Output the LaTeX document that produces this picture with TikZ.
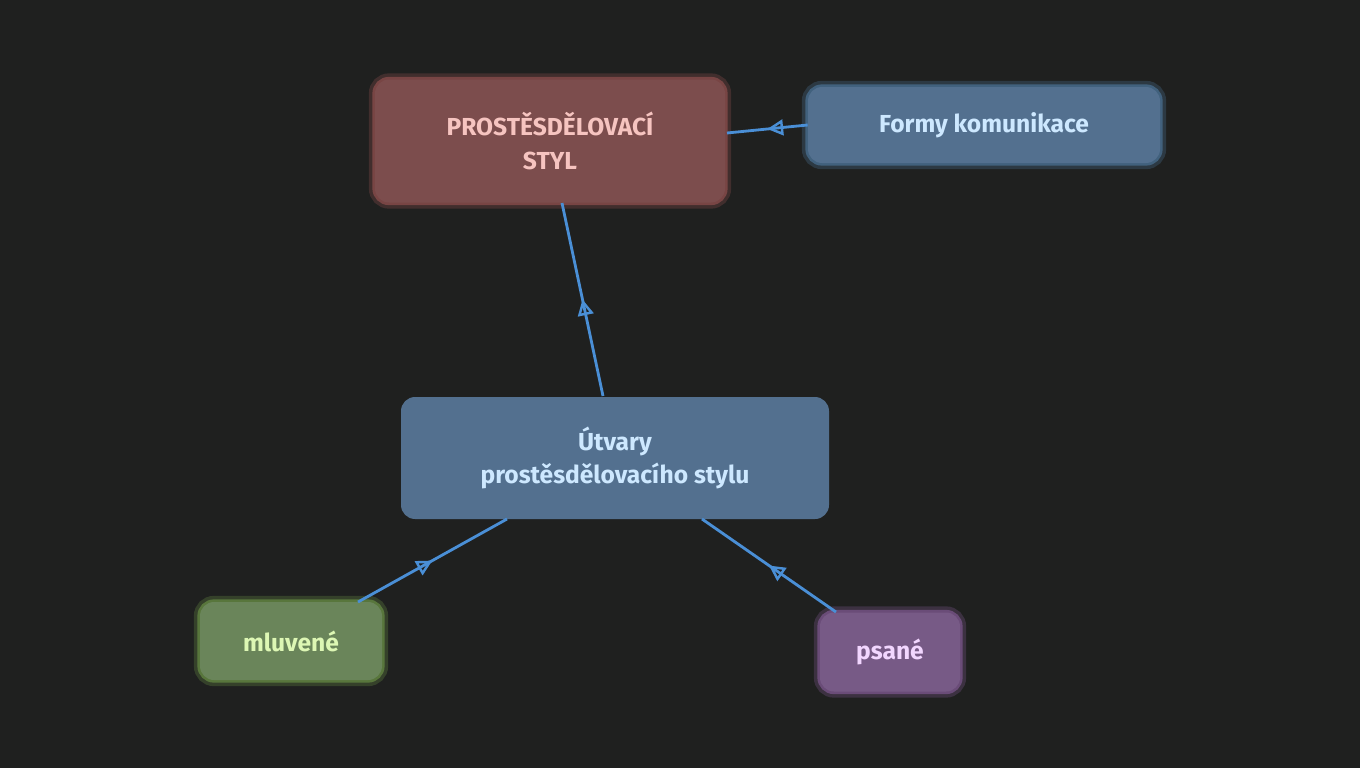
\documentclass[tikz,border=0pt]{standalone}
\usepackage{fontspec}
\setmainfont{Fira Sans}
\usetikzlibrary{arrows.meta, decorations.markings}

\definecolor{bg}{HTML}{1F201F}
\definecolor{linkblue}{HTML}{4A8FD6}
\definecolor{redfill}{HTML}{7C4D4D}
\definecolor{redtext}{HTML}{F6C4C0}
\definecolor{redglow}{HTML}{E07070}
\definecolor{bluefill}{HTML}{53708F}
\definecolor{bluetext}{HTML}{CDE8FF}
\definecolor{blueglow}{HTML}{6AAEEA}
\definecolor{greenfill}{HTML}{6A855A}
\definecolor{greentext}{HTML}{DDF7B4}
\definecolor{greenglow}{HTML}{9BDB60}
\definecolor{violetfill}{HTML}{775A86}
\definecolor{violettext}{HTML}{F2D6FF}
\definecolor{violetglow}{HTML}{C080E0}

\begin{document}
\begin{tikzpicture}[x=0.02cm, y=-0.02cm,
        box/.style={rounded corners=8pt, align=center, inner sep=0pt,
            font=\fontsize{14}{19}\selectfont\bfseries},
        glow/.style={preaction={draw=#1, line width=7pt, opacity=.18},
            preaction={draw=#1, line width=3pt, opacity=.35}},
        link/.style={linkblue, line width=1.6pt, postaction={decorate},
            decoration={markings, mark=at position .5 with
                {\arrow{Triangle[open, length=9pt, width=9pt, line width=1.4pt]}}}}]

        % Background
        \fill [bg] (0,0) rectangle (1360,768);

        % Nodes
        \node [box, glow=redglow, fill=redfill, text=redtext,
            minimum width=350*0.02cm, minimum height=123*0.02cm] (style) at (550,141)
            {PROSTĚSDĚLOVACÍ\\STYL};
        \node [box, glow=blueglow, fill=bluefill, text=bluetext,
            minimum width=352*0.02cm, minimum height=76*0.02cm] (forms) at (984,125)
            {Formy komunikace};
        \node [box, fill=bluefill, text=bluetext,
            minimum width=428*0.02cm, minimum height=122*0.02cm] (types) at (615,458)
            {Útvary\\prostěsdělovacího stylu};
        \node [box, glow=greenglow, fill=greenfill, text=greentext,
            minimum width=182*0.02cm, minimum height=78*0.02cm] (spoken) at (291,641)
            {mluvené};
        \node [box, glow=violetglow, fill=violetfill, text=violettext,
            minimum width=140*0.02cm, minimum height=79*0.02cm] (written) at (890,652)
            {psané};

        % Links
        \draw [link] (forms.west) -- (727,133);
        \draw [link] (603,396) -- (562,203);
        \draw [link] (358,602) -- (507,519);
        \draw [link] (836,612) -- (702,519);
\end{tikzpicture}
\end{document}
